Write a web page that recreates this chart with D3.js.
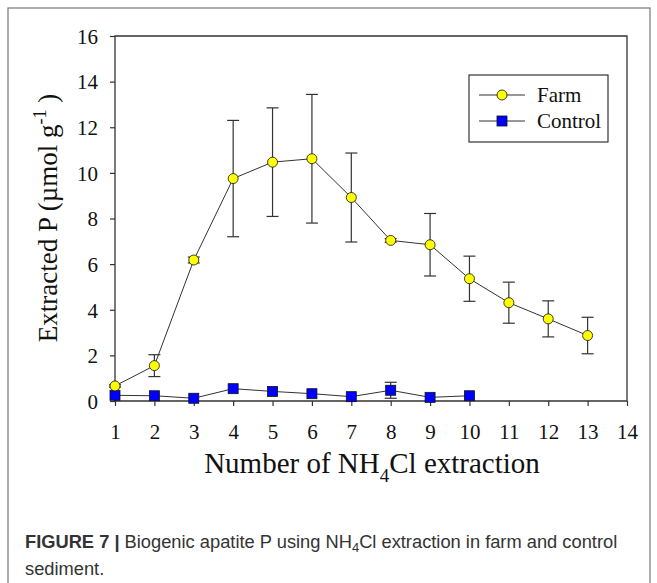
<!DOCTYPE html>
<html>
<head>
<meta charset="utf-8">
<script src="https://cdn.jsdelivr.net/npm/d3@7"></script>
<style>
body { margin: 0; background: #fff; }
svg { display: block; }
</style>
</head>
<body>
<script>
// values
var extraction = [1,2,3,4,5,6,7,8,9,10,11,12,13];
var farmMean = [0.66,1.55,6.18,9.75,10.47,10.62,8.92,7.04,6.85,5.36,4.31,3.60,2.87];
var farmErr  = [0.05,0.48,0.13,2.55,2.38,2.82,1.95,0.08,1.37,0.99,0.90,0.79,0.80];
var controlX    = [1,2,3,4,5,6,7,8,9,10];
var controlMean = [0.25,0.23,0.12,0.54,0.42,0.32,0.19,0.47,0.16,0.23];
var controlErr  = [0,0,0,0,0,0,0,0.35,0,0];
var xTicks = [1,2,3,4,5,6,7,8,9,10,11,12,13,14];
var yTicks = [0,2,4,6,8,10,12,14,16];
var seriesNames = ["Farm","Control"];

var W = 657, H = 583;
var pLeft = 115, pRight = 627, pTop = 36, pBottom = 401;

var svg = d3.select("body").append("svg")
  .attr("width", W)
  .attr("height", H);

// outer figure frame
svg.append("rect")
  .attr("x", 8).attr("y", 8)
  .attr("width", 642).attr("height", 620)
  .attr("fill", "none")
  .attr("stroke", "#777")
  .attr("stroke-width", 1.2);

var x = d3.scaleLinear().domain([1,14]).range([pLeft, pRight]);
var y = d3.scaleLinear().domain([0,16]).range([pBottom, pTop]);

var serif = "'Liberation Serif', 'Times New Roman', serif";

// axes
var xAxis = svg.append("g")
  .attr("transform", "translate(0," + pBottom + ")")
  .call(d3.axisBottom(x).tickValues(xTicks).tickSize(5).tickPadding(18).tickFormat(d3.format("d")));
var yAxis = svg.append("g")
  .attr("transform", "translate(" + pLeft + ",0)")
  .call(d3.axisLeft(y).tickValues(yTicks).tickSize(5).tickPadding(12).tickFormat(d3.format("d")));

[xAxis, yAxis].forEach(function(g){
  g.select(".domain").remove();
  g.selectAll("line").attr("stroke", "#333").attr("stroke-width", 1.2);
  g.selectAll("text")
    .attr("fill", "#111")
    .style("font-family", serif)
    .style("font-size", "21px");
});
yAxis.selectAll("text").attr("dy", "0.35em");

// plot frame
svg.append("path")
  .attr("d", "M" + pLeft + "," + pTop + "H" + pRight + "V" + pBottom + "H" + pLeft + "Z")
  .attr("fill", "none")
  .attr("stroke", "#333")
  .attr("stroke-width", 1.3);

var farm = extraction.map(function(d, i){ return {x: d, y: farmMean[i], e: farmErr[i]}; });
var control = controlX.map(function(d, i){ return {x: d, y: controlMean[i], e: controlErr[i]}; });

var line = d3.line().x(function(d){ return x(d.x); }).y(function(d){ return y(d.y); });

function errorBars(data){
  var g = svg.append("g").attr("stroke", "#333").attr("stroke-width", 1.2);
  data.filter(function(d){ return d.e > 0; }).forEach(function(d){
    var cx = x(d.x), y0 = y(d.y - d.e), y1 = y(d.y + d.e);
    g.append("line").attr("x1", cx).attr("x2", cx).attr("y1", y0).attr("y2", y1);
    g.append("line").attr("x1", cx - 6).attr("x2", cx + 6).attr("y1", y0).attr("y2", y0);
    g.append("line").attr("x1", cx - 6).attr("x2", cx + 6).attr("y1", y1).attr("y2", y1);
  });
}

errorBars(farm);
errorBars(control);

svg.append("path").datum(control)
  .attr("d", line).attr("fill", "none").attr("stroke", "#333").attr("stroke-width", 1);
svg.append("path").datum(farm)
  .attr("d", line).attr("fill", "none").attr("stroke", "#333").attr("stroke-width", 1);

svg.selectAll(".ctl").data(control).enter().append("rect")
  .attr("x", function(d){ return x(d.x) - 5; })
  .attr("y", function(d){ return y(d.y) - 5; })
  .attr("width", 10).attr("height", 10)
  .attr("fill", "#0000ff").attr("stroke", "#111").attr("stroke-width", 0.8);

svg.selectAll(".farm").data(farm).enter().append("circle")
  .attr("cx", function(d){ return x(d.x); })
  .attr("cy", function(d){ return y(d.y); })
  .attr("r", 5)
  .attr("fill", "#ffff00").attr("stroke", "#111").attr("stroke-width", 0.8);

// legend
var lg = svg.append("g");
lg.append("rect")
  .attr("x", 469).attr("y", 75).attr("width", 139).attr("height", 67)
  .attr("fill", "#fff").attr("stroke", "#333").attr("stroke-width", 1.2);
seriesNames.forEach(function(name, i){
  var ly = 95 + i * 26;
  lg.append("line").attr("x1", 479).attr("x2", 525).attr("y1", ly).attr("y2", ly)
    .attr("stroke", "#333").attr("stroke-width", 1);
  if (i === 0) {
    lg.append("circle").attr("cx", 502).attr("cy", ly).attr("r", 5)
      .attr("fill", "#ffff00").attr("stroke", "#111").attr("stroke-width", 0.8);
  } else {
    lg.append("rect").attr("x", 497).attr("y", ly - 5).attr("width", 10).attr("height", 10)
      .attr("fill", "#0000ff").attr("stroke", "#111").attr("stroke-width", 0.8);
  }
  lg.append("text").attr("x", 537).attr("y", ly + 7)
    .style("font-family", serif).style("font-size", "21px").attr("fill", "#111")
    .text(name);
});

// axis titles
var xt = svg.append("text")
  .attr("x", 372).attr("y", 473)
  .attr("text-anchor", "middle")
  .style("font-family", serif).style("font-size", "29px").attr("fill", "#111");
xt.append("tspan").text("Number of NH");
xt.append("tspan").attr("dy", 9).style("font-size", "19px").text("4");
xt.append("tspan").attr("dy", -9).text("Cl extraction");

var yt = svg.append("text")
  .attr("transform", "translate(57,218) rotate(-90)")
  .attr("text-anchor", "middle")
  .style("font-family", serif).style("font-size", "27px").attr("fill", "#111");
yt.append("tspan").text("Extracted P (\u00b5mol g");
yt.append("tspan").attr("dy", -11).style("font-size", "18px").text("-1");
yt.append("tspan").attr("dy", 11).text(" )");

// caption
var sans = "'Liberation Sans', Arial, Helvetica, sans-serif";
var cap = svg.append("text")
  .attr("x", 25).attr("y", 548)
  .style("font-family", sans).style("font-size", "18.3px").attr("fill", "#333");
cap.append("tspan").style("font-weight", "bold").text("FIGURE 7 | ");
cap.append("tspan").text("Biogenic apatite P using NH");
cap.append("tspan").attr("dy", 4).style("font-size", "13px").text("4");
cap.append("tspan").attr("dy", -4).text("Cl extraction in farm and control");
svg.append("text")
  .attr("x", 25).attr("y", 575)
  .style("font-family", sans).style("font-size", "18.3px").attr("fill", "#333")
  .text("sediment.");
</script>
</body>
</html>
